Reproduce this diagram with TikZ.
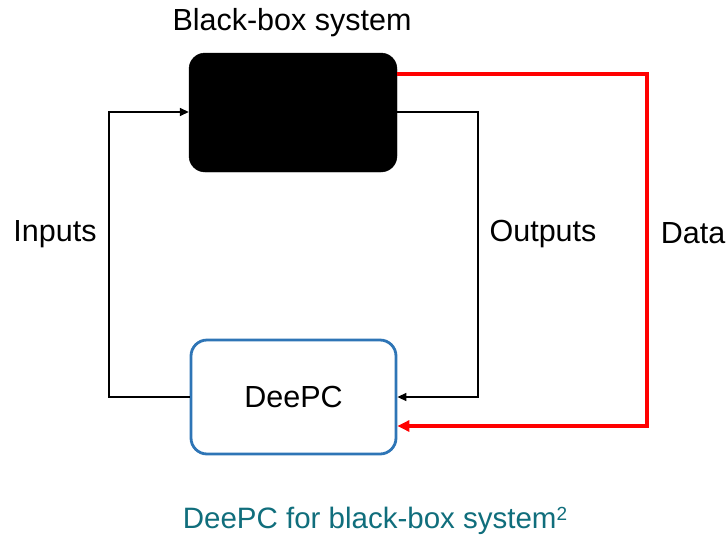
\documentclass[tikz,border=0pt]{standalone}
\usepackage{fontspec}
\setmainfont{Liberation Sans}
\usetikzlibrary{arrows.meta}
\definecolor{boxblue}{RGB}{46,117,182}
\definecolor{capteal}{RGB}{16,110,124}
\tikzset{
  lbl/.style={font=\fontsize{30.5}{36}\selectfont, inner sep=0pt},
  conn/.style={line width=1.5pt, -{Triangle[length=9pt,width=8pt]}},
  dataconn/.style={red, line width=3.5pt, -{Triangle[length=12pt,width=11pt]}, line join=miter}
}
\begin{document}
\begin{tikzpicture}[x=1pt,y=-1pt]
\useasboundingbox (0,0) rectangle (728,536);
\node[draw=black, fill=black, rounded corners=16pt, minimum width=208pt, minimum height=119pt, inner sep=0pt] (bb) at (293,112.5) {};
\node[draw=boxblue, line width=2.8pt, fill=white, rounded corners=16pt, minimum width=205pt, minimum height=114pt, inner sep=0pt, lbl] (dpc) at (293.5,397) {DeePC};
\node[lbl] (bbl) at (292,23) {Black-box system};
\node[lbl] (inl) at (55,234) {Inputs};
\node[lbl] (outl) at (543,234) {Outputs};
\node[lbl] (datal) at (693,233) {Data};
\node[inner sep=0pt, text=capteal, font=\fontsize{29.5}{36}\selectfont] (cap) at (375,521) {DeePC for black-box system{\fontsize{19}{20}\selectfont\raisebox{8pt}{2}}};
\coordinate (bbin) at (bb.west |- 0,112);
\coordinate (bbout) at (bb.east |- 0,112);
\coordinate (bbdata) at (bb.east |- 0,74);
\draw[conn] (dpc.west) -| (109,112) -- (bbin);
\draw[conn] (bbout) -| (478,397) -- (dpc.east |- 0,397);
\draw[dataconn] (bbdata) -| (647,426) -- (dpc.east |- 0,426);
\end{tikzpicture}
\end{document}
